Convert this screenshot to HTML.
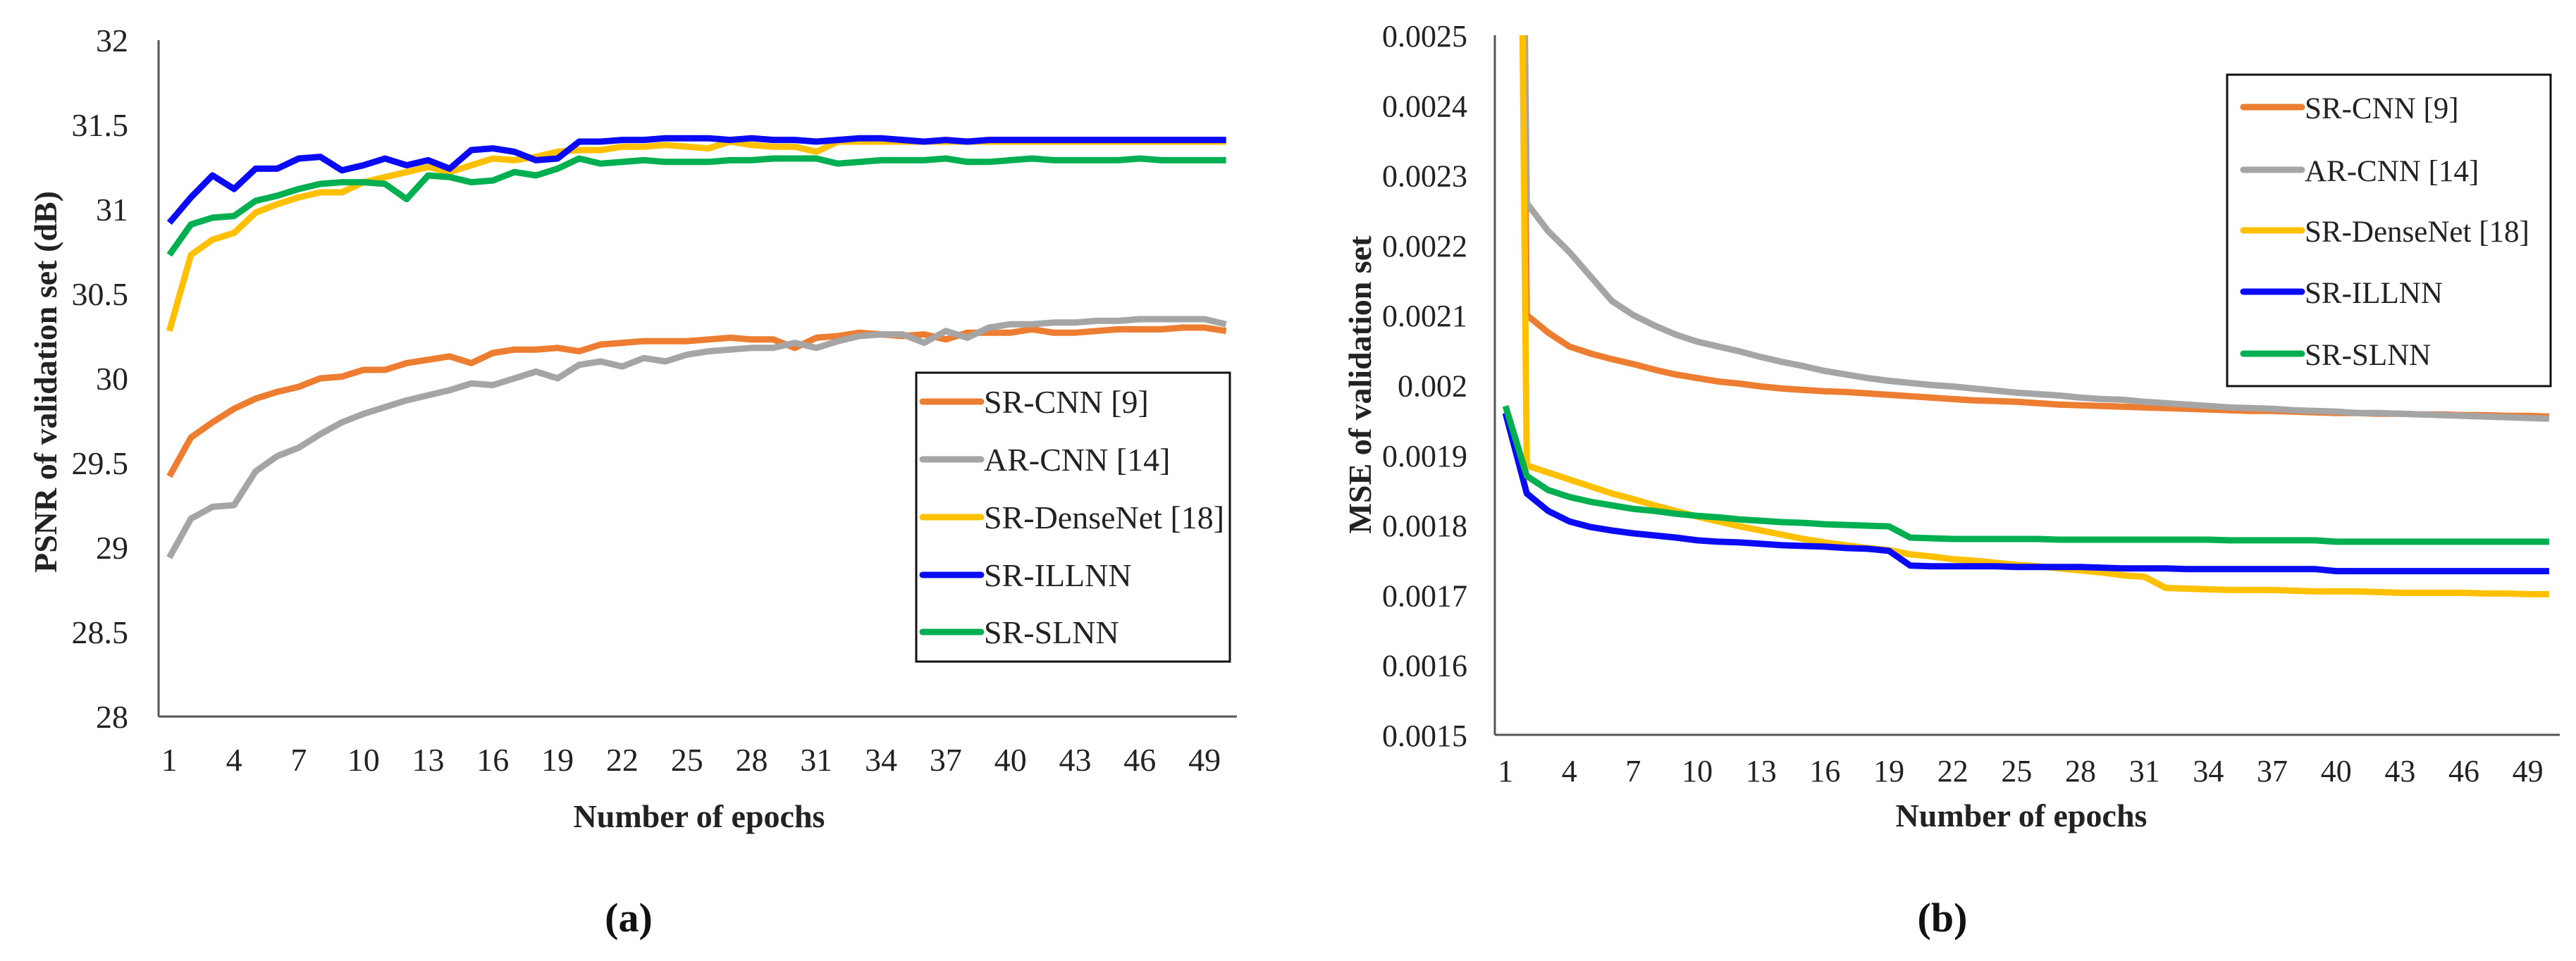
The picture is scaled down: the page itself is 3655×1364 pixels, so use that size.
<!DOCTYPE html>
<html><head><meta charset="utf-8"><style>
html,body{margin:0;padding:0;background:#fff;}
svg{display:block;font-family:"Liberation Serif",serif;}
</style></head><body>
<svg id="fig" width="3655" height="1364" viewBox="0 0 3655 1364" xmlns="http://www.w3.org/2000/svg">
<defs>
<clipPath id="clipA"><rect x="225" y="57" width="1530" height="960"/></clipPath>
<clipPath id="clipB"><rect x="2121" y="50" width="1511" height="993"/></clipPath>
</defs>
<rect width="3655" height="1364" fill="#fff"/>
<g id="chartA"></g>
<g id="chartB"></g>
</svg>
<script>
const epochTicks = [1,4,7,10,13,16,19,22,25,28,31,34,37,40,43,46,49];
const seriesNames = ["SR-CNN [9]","AR-CNN [14]","SR-DenseNet [18]","SR-ILLNN","SR-SLNN"];
const psnrTicks = ["28","28.5","29","29.5","30","30.5","31","31.5","32"];
const mseTicks = ["0.0015","0.0016","0.0017","0.0018","0.0019","0.002","0.0021","0.0022","0.0023","0.0024","0.0025"];

const psnrSrcnn = [29.42,29.65,29.74,29.82,29.88,29.92,29.95,30.0,30.01,30.05,30.05,30.09,30.11,30.13,30.09,30.15,30.17,30.17,30.18,30.16,30.2,30.21,30.22,30.22,30.22,30.23,30.24,30.23,30.23,30.18,30.24,30.25,30.27,30.26,30.25,30.26,30.23,30.27,30.27,30.27,30.29,30.27,30.27,30.28,30.29,30.29,30.29,30.3,30.3,30.28];
const psnrArcnn = [28.94,29.17,29.24,29.25,29.45,29.54,29.59,29.67,29.74,29.79,29.83,29.87,29.9,29.93,29.97,29.96,30.0,30.04,30.0,30.08,30.1,30.07,30.12,30.1,30.14,30.16,30.17,30.18,30.18,30.21,30.18,30.22,30.25,30.26,30.26,30.21,30.28,30.24,30.3,30.32,30.32,30.33,30.33,30.34,30.34,30.35,30.35,30.35,30.35,30.32];
const psnrDense = [30.28,30.73,30.82,30.86,30.98,31.03,31.07,31.1,31.1,31.16,31.19,31.22,31.25,31.22,31.26,31.3,31.29,31.31,31.34,31.35,31.35,31.37,31.37,31.38,31.37,31.36,31.4,31.38,31.37,31.37,31.34,31.4,31.4,31.4,31.4,31.4,31.4,31.4,31.4,31.4,31.4,31.4,31.4,31.4,31.4,31.4,31.4,31.4,31.4,31.4];
const psnrIllnn = [30.92,31.07,31.2,31.12,31.24,31.24,31.3,31.31,31.23,31.26,31.3,31.26,31.29,31.24,31.35,31.36,31.34,31.29,31.3,31.4,31.4,31.41,31.41,31.42,31.42,31.42,31.41,31.42,31.41,31.41,31.4,31.41,31.42,31.42,31.41,31.4,31.41,31.4,31.41,31.41,31.41,31.41,31.41,31.41,31.41,31.41,31.41,31.41,31.41,31.41];
const psnrSlnn = [30.73,30.91,30.95,30.96,31.05,31.08,31.12,31.15,31.16,31.16,31.15,31.06,31.2,31.19,31.16,31.17,31.22,31.2,31.24,31.3,31.27,31.28,31.29,31.28,31.28,31.28,31.29,31.29,31.3,31.3,31.3,31.27,31.28,31.29,31.29,31.29,31.3,31.28,31.28,31.29,31.3,31.29,31.29,31.29,31.29,31.3,31.29,31.29,31.29,31.29];

const mseSrcnn = [50,21.0,20.75,20.55,20.45,20.37,20.3,20.22,20.15,20.1,20.05,20.02,19.98,19.95,19.93,19.91,19.9,19.88,19.86,19.84,19.82,19.8,19.78,19.77,19.76,19.74,19.72,19.71,19.7,19.69,19.68,19.67,19.66,19.65,19.64,19.63,19.63,19.62,19.61,19.6,19.6,19.59,19.59,19.58,19.58,19.57,19.57,19.56,19.56,19.55];
const mseArcnn = [50,22.6,22.2,21.9,21.55,21.2,21.0,20.85,20.72,20.62,20.55,20.48,20.4,20.33,20.27,20.2,20.15,20.1,20.06,20.03,20.0,19.98,19.95,19.92,19.89,19.87,19.85,19.82,19.8,19.79,19.76,19.74,19.72,19.7,19.68,19.67,19.66,19.64,19.63,19.62,19.6,19.6,19.59,19.58,19.57,19.56,19.55,19.54,19.53,19.52];
const mseDense = [50,18.85,18.75,18.65,18.55,18.45,18.37,18.28,18.2,18.12,18.05,17.98,17.92,17.86,17.8,17.75,17.71,17.67,17.64,17.58,17.55,17.51,17.49,17.46,17.43,17.41,17.38,17.35,17.32,17.28,17.26,17.1,17.09,17.08,17.07,17.07,17.07,17.06,17.05,17.05,17.05,17.04,17.03,17.03,17.03,17.03,17.02,17.02,17.01,17.01];
const mseIllnn = [19.6,18.45,18.2,18.05,17.97,17.92,17.88,17.85,17.82,17.78,17.76,17.75,17.73,17.71,17.7,17.69,17.67,17.66,17.63,17.42,17.41,17.41,17.41,17.41,17.4,17.4,17.4,17.4,17.39,17.38,17.38,17.38,17.37,17.37,17.37,17.37,17.37,17.37,17.37,17.34,17.34,17.34,17.34,17.34,17.34,17.34,17.34,17.34,17.34,17.34];
const mseSlnn = [19.7,18.7,18.5,18.4,18.33,18.28,18.23,18.2,18.16,18.13,18.11,18.08,18.06,18.04,18.03,18.01,18.0,17.99,17.98,17.82,17.81,17.8,17.8,17.8,17.8,17.8,17.79,17.79,17.79,17.79,17.79,17.79,17.79,17.79,17.78,17.78,17.78,17.78,17.78,17.76,17.76,17.76,17.76,17.76,17.76,17.76,17.76,17.76,17.76,17.76];

const colors = ["#ED7D31","#A5A5A5","#FFC000","#0A0AF5","#00B050"];
const NS = "http://www.w3.org/2000/svg";
function mk(parent, tag, attrs, text){
  const e = document.createElementNS(NS, tag);
  for (const k in attrs) e.setAttribute(k, attrs[k]);
  if (text !== undefined) e.textContent = text;
  parent.appendChild(e);
  return e;
}

function drawChart(g, cfg){
  const xS = ep => cfg.left + (ep - 0.5) * (cfg.right - cfg.left) / 50;
  const yS = v => cfg.bottom - (v - cfg.ymin) / (cfg.ymax - cfg.ymin) * (cfg.bottom - cfg.top);
  cfg.yTicks.forEach(t => {
    const v = parseFloat(t) * cfg.tickScale;
    const tx = mk(g, "text", {x: cfg.labelRight, y: yS(v) + 16, "text-anchor": "end", "font-size": cfg.tickFont, fill: "#222"}, t);
    
    
  });
  epochTicks.forEach(ep => {
    const tx = mk(g, "text", {x: xS(ep), y: cfg.xLabelY, "text-anchor": "middle", "font-size": cfg.tickFont, fill: "#222"}, String(ep));
    
    
  });
  const sg = mk(g, "g", {"clip-path": "url(#" + cfg.clip + ")"});
  
  
  cfg.series.forEach((arr, i) => {
    const pts = arr.map((v, k) => xS(k + 1).toFixed(1) + "," + yS(v).toFixed(1)).join(" ");
    const pl = mk(sg, "polyline", {points: pts, fill: "none", stroke: colors[i], "stroke-width": 9, "stroke-linejoin": "round"});
    
    
  });
  const ya = mk(g, "line", {x1: cfg.left, y1: cfg.top, x2: cfg.left, y2: cfg.bottom, stroke: "#555", "stroke-width": 3});
  
  
  const xa = mk(g, "line", {x1: cfg.left, y1: cfg.bottom, x2: cfg.right, y2: cfg.bottom, stroke: "#555", "stroke-width": 3});
  
  
  const xt = mk(g, "text", {x: cfg.xTitleX, y: cfg.xTitleY, "text-anchor": "middle", "font-size": 46, "font-weight": "bold", fill: "#222"}, "Number of epochs");
  
  
  const yt = mk(g, "text", {x: 0, y: 0, transform: "translate(" + cfg.yTitleX + "," + cfg.yTitleY + ") rotate(-90)", "text-anchor": "middle", "font-size": 46, "font-weight": "bold", fill: "#222"}, cfg.yTitle);
  
  
  const cap = mk(g, "text", {x: cfg.capX, y: 1322, "text-anchor": "middle", "font-size": 58, "font-weight": "bold", fill: "#111"}, cfg.caption);
  
  
  const lg = mk(g, "g", {});
  
  
  mk(lg, "rect", {x: cfg.leg.x, y: cfg.leg.y, width: cfg.leg.w, height: cfg.leg.h, fill: "#fff", stroke: "#111", "stroke-width": 3});
  seriesNames.forEach((n, i) => {
    const ey = cfg.leg.ys[i];
    const e = mk(lg, "g", {});
    
    
    mk(e, "line", {x1: cfg.leg.sx1, y1: ey, x2: cfg.leg.sx2, y2: ey, stroke: colors[i], "stroke-width": 9, "stroke-linecap": "round"});
    mk(e, "text", {x: cfg.leg.sx2 + 4, y: ey + 16, "font-size": cfg.leg.font, fill: "#222"}, n);
  });
}

drawChart(document.getElementById("chartA"), {
  left: 225, right: 1755, top: 57, bottom: 1017, ymin: 28, ymax: 32, tickScale: 1, tickFont: 46,
  yTicks: psnrTicks, labelRight: 182, xLabelY: 1094, clip: "clipA",
  series: [psnrSrcnn, psnrArcnn, psnrDense, psnrIllnn, psnrSlnn],
  xTitleX: 992, xTitleY: 1174, yTitle: "PSNR of validation set (dB)", yTitleX: 80, yTitleY: 542,
  capX: 892, caption: "(a)",
  leg: {x: 1300, y: 529, w: 445, h: 410, ys: [570,652,734,816,897], sx1: 1309, sx2: 1392, font: 46}
});
drawChart(document.getElementById("chartB"), {
  left: 2121, right: 3632, top: 50, bottom: 1043, ymin: 15, ymax: 25, tickScale: 10000, tickFont: 44,
  yTicks: mseTicks, labelRight: 2082, xLabelY: 1109, clip: "clipB",
  series: [mseSrcnn, mseArcnn, mseDense, mseIllnn, mseSlnn],
  xTitleX: 2868, xTitleY: 1173, yTitle: "MSE of validation set", yTitleX: 1945, yTitleY: 546,
  capX: 2756, caption: "(b)",
  leg: {x: 3160, y: 106, w: 459, h: 442, ys: [152,241,327,414,502], sx1: 3183, sx2: 3266, font: 43}
});
</script>
</body></html>
